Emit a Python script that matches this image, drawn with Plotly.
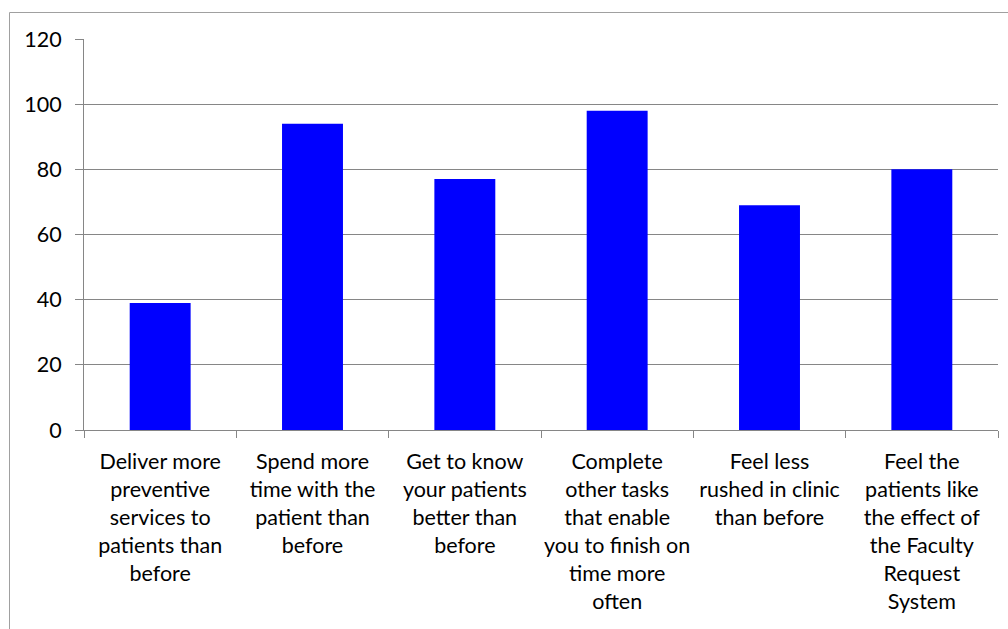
import plotly.graph_objects as go

# Survey items (wrapped for the axis) and counts
categories = [
    "Deliver more<br>preventive<br>services to<br>patients than<br>before",
    "Spend more<br>time with the<br>patient than<br>before",
    "Get to know<br>your patients<br>better than<br>before",
    "Complete<br>other tasks<br>that enable<br>you to finish on<br>time more<br>often",
    "Feel less<br>rushed in clinic<br>than before",
    "Feel the<br>patients like<br>the effect of<br>the Faculty<br>Request<br>System",
]
values = [39, 94, 77, 98, 69, 80]
y_ticks = [0, 20, 40, 60, 80, 100, 120]

FONT = "Lato, Calibri, Carlito, sans-serif"
GRID = "#868686"

fig = go.Figure(
    go.Bar(
        x=categories,
        y=values,
        width=0.4,
        marker=dict(color="#0000ff", line=dict(width=0)),
    )
)

fig.update_layout(
    width=1008,
    height=629,
    margin=dict(l=84, r=10, t=39, b=199),
    paper_bgcolor="white",
    plot_bgcolor="white",
    showlegend=False,
    font=dict(family=FONT, size=21.5, color="#000000"),
    bargap=0.6,
)

fig.update_xaxes(
    type="category",
    tickson="boundaries",
    ticks="outside",
    ticklen=7,
    tickcolor=GRID,
    showline=True,
    linecolor=GRID,
    linewidth=1,
    showgrid=False,
    zeroline=False,
    tickangle=0,
    ticklabelstandoff=12,
)

fig.update_yaxes(
    range=[0, 120],
    tickmode="array",
    tickvals=y_ticks,
    ticktext=[str(v) for v in y_ticks],
    ticks="outside",
    ticklen=8,
    tickcolor=GRID,
    showline=True,
    linecolor=GRID,
    linewidth=1,
    showgrid=True,
    gridcolor=GRID,
    gridwidth=1,
    zeroline=False,
    ticklabelstandoff=9,
)

# Outer chart frame
fig.add_shape(
    type="rect",
    xref="paper", yref="paper",
    x0=(9.5 - 84) / 914, x1=1.2,
    y0=-1.0, y1=(430 - 12.5) / 391,
    line=dict(color="#a0a0a0", width=1),
    fillcolor="rgba(0,0,0,0)",
    layer="below",
)

fig.write_html("out.html")
